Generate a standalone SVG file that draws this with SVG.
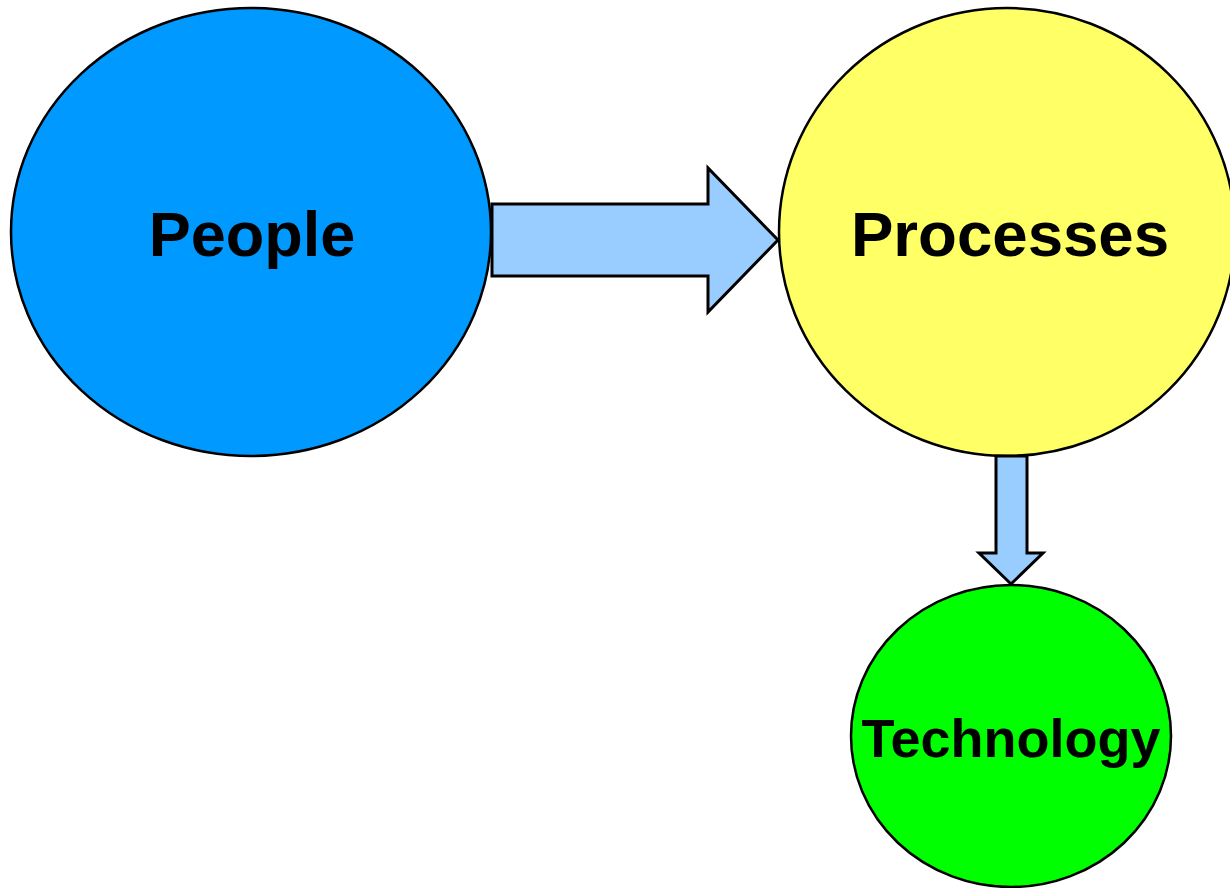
<svg xmlns="http://www.w3.org/2000/svg" width="1230" height="888" viewBox="0 0 1230 888">
  <style>
    .node { stroke: #000000; stroke-width: 2.5; }
    .label { font-family: "Liberation Sans", Arial, sans-serif; font-weight: bold; fill: #000000; text-anchor: middle; }
    .arrow { fill: #99CCFF; stroke: #000000; stroke-width: 3; stroke-linejoin: miter; }
  </style>
  <rect width="1230" height="888" fill="#FFFFFF"/>

  <g id="people">
    <ellipse class="node" cx="251" cy="232" rx="240" ry="224" fill="#0099FF"/>
    <text class="label" x="252" y="256" font-size="63">People</text>
  </g>

  <g id="processes">
    <ellipse class="node" cx="1007" cy="232" rx="228" ry="224" fill="#FFFF66"/>
    <text class="label" x="1010" y="256" font-size="63.6">Processes</text>
  </g>

  <g id="technology">
    <ellipse class="node" cx="1011" cy="736" rx="160" ry="151" fill="#00FF00"/>
    <text class="label" x="1011" y="757" font-size="54">Technology</text>
  </g>

  <g id="connectors">
    <polygon class="arrow" points="492,204 708,204 708,168 778,240 708,312 708,276 492,276"/>
    <polygon class="arrow" points="996,456 1027,456 1027,553 1043,553 1011,584 979,553 996,553"/>
  </g>
</svg>
